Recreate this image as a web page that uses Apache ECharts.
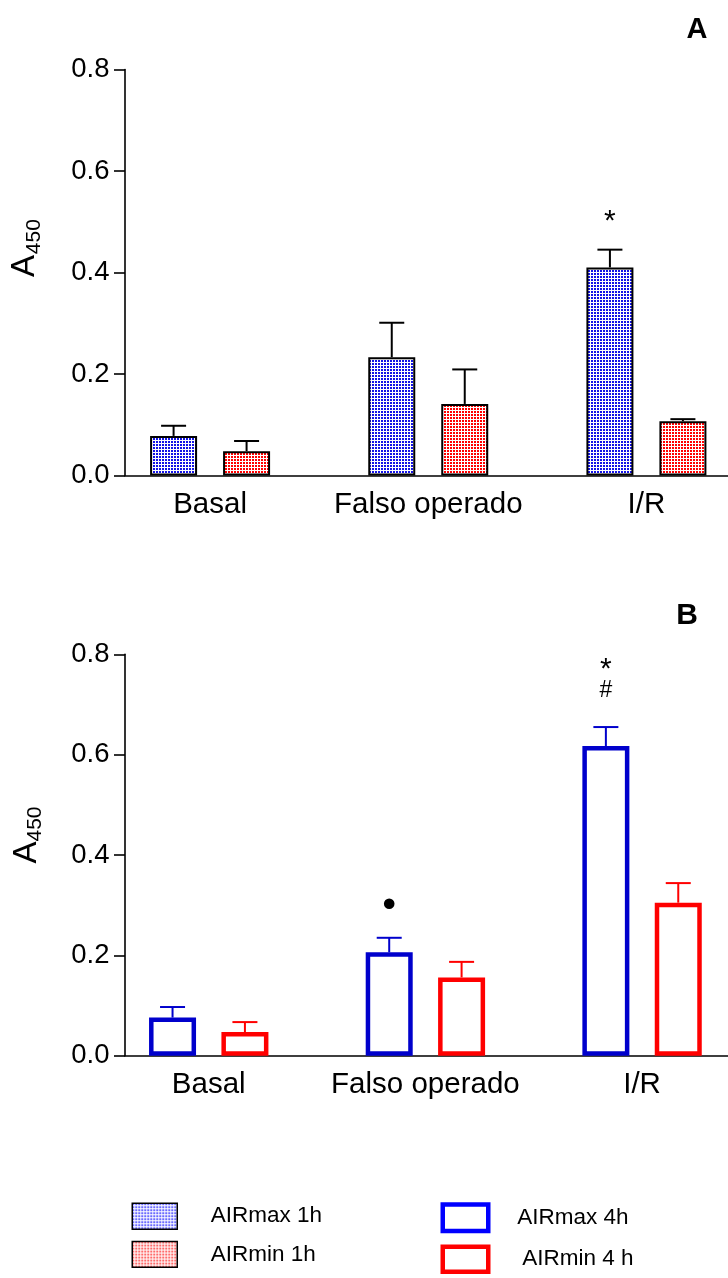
<!DOCTYPE html>
<html>
<head>
<meta charset="utf-8">
<script src="https://cdn.jsdelivr.net/npm/echarts@6/dist/echarts.min.js"></script>
<style>
  html, body { margin: 0; padding: 0; background: #fff; }
  #chart { width: 728px; height: 1278px; }
</style>
</head>
<body>
<div id="chart"></div>
<script>
// Groups on the x axis and the labels on the absorbance axis
const categories = ['Basal', 'Falso operado', 'I/R'];
const yTickLabels = ['0.0', '0.2', '0.4', '0.6', '0.8'];

// Panel A: 1 h of ischemia-reperfusion (mean and SEM of A450)
const airMax1h = [0.078, 0.233, 0.410];
const airMax1hSem = [0.020, 0.068, 0.035];
const airMin1h = [0.048, 0.141, 0.107];
const airMin1hSem = [0.020, 0.068, 0.004];
const airMax1hMarks = [[], [], ['*']];
const airMin1hMarks = [[], [], []];

// Panel B: 4 h of ischemia-reperfusion
const airMax4h = [0.076, 0.206, 0.617];
const airMax4hSem = [0.021, 0.029, 0.038];
const airMin4h = [0.047, 0.156, 0.305];
const airMin4hSem = [0.020, 0.031, 0.039];
const airMax4hMarks = [[], ['•'], ['*', '#']];
const airMin4hMarks = [[], [], []];

// Series names as shown in the legend
const seriesNames = ['AIRmax 1h', 'AIRmin 1h', 'AIRmax 4h', 'AIRmin 4 h'];

const FONT = '"Liberation Sans", Arial, Helvetica, sans-serif';
const BAR_W = 47;
const GAP_A = 0.553;
const GAP_B = 0.54;

// Dotted fill used by the 1 h bars
function dotPattern(color, tile, dot) {
  const c = document.createElement('canvas');
  c.width = c.height = tile;
  const g = c.getContext('2d');
  g.fillStyle = '#ffffff';
  g.fillRect(0, 0, tile, tile);
  g.fillStyle = color;
  g.fillRect(0, 0, dot, dot);
  return { image: c, repeat: 'repeat' };
}
const blueDots = dotPattern('#1414e6', 3, 2);
const redDots = dotPattern('#ff0000', 3, 2);
const blueDotsLight = dotPattern('#6a6aff', 3, 2);
const redDotsLight = dotPattern('#ff6a6a', 3, 2);

// Upper error bar plus significance symbols above it
function errorSeries(name, values, sems, marks, axisIdx, side, gap, color) {
  const offset = BAR_W * (1 + gap) / 2;
  return {
    type: 'custom',
    name: name + ' SEM',
    xAxisIndex: axisIdx,
    yAxisIndex: axisIdx,
    silent: true,
    clip: false,
    z: 1,
    data: values.map((v, i) => [i, v, v + sems[i]]),
    renderItem(params, api) {
      const i = api.value(0);
      const base = api.coord([i, api.value(1)]);
      const top = api.coord([i, api.value(2)]);
      const x = base[0] + side * offset;
      const lw = 2;
      const children = [
        { type: 'line', shape: { x1: x, y1: base[1], x2: x, y2: top[1] }, style: { stroke: color, lineWidth: lw } },
        { type: 'line', shape: { x1: x - 12.5, y1: top[1], x2: x + 12.5, y2: top[1] }, style: { stroke: color, lineWidth: lw } }
      ];
      const list = marks[i] || [];
      for (let k = list.length - 1, level = 0; k >= 0; k--, level++) {
        const yc = top[1] - 36 - level * 29;
        const m = list[k];
        if (m === '•') {
          children.push({ type: 'circle', shape: { cx: x, cy: yc + 2, r: 5.3 }, style: { fill: '#000' } });
        } else {
          const big = m === '*';
          children.push({
            type: 'text',
            style: {
              text: m, x: x, y: big ? yc + 8 : yc,
              fill: '#000', font: (big ? '30px ' : '23px ') + FONT,
              textAlign: 'center', textVerticalAlign: 'middle'
            }
          });
        }
      }
      return { type: 'group', children };
    }
  };
}

const panelA = { top: 69.5, height: 406 };
const panelB = { top: 654.3, height: 401.4 };

const axisGrid = (p) => ({ left: 125, right: 0, top: p.top, height: p.height, outerBoundsMode: 'none', containLabel: false });
const barGrid = (p, left, width) => ({ left, width, top: p.top, height: p.height, outerBoundsMode: 'none', containLabel: false });

const visibleY = (idx) => ({
  type: 'value', gridIndex: idx, min: 0, max: 0.8, interval: 0.2,
  axisLine: { show: true, onZero: false, lineStyle: { color: '#000', width: 1.6 } },
  axisTick: { show: true, inside: false, length: 11, lineStyle: { color: '#000', width: 1.6 } },
  axisLabel: {
    show: true, margin: 15.5, color: '#000', fontSize: 27.5, fontFamily: FONT,
    formatter: (v, i) => yTickLabels[i]
  },
  splitLine: { show: false }
});
const baselineX = (idx) => ({
  type: 'value', gridIndex: idx, min: 0, max: 1,
  axisLine: { show: true, onZero: false, lineStyle: { color: '#000', width: 1.6 } },
  axisTick: { show: false }, axisLabel: { show: false }, splitLine: { show: false }
});
const categoryX = (idx) => ({
  type: 'category', gridIndex: idx, data: categories,
  axisLine: { show: false }, axisTick: { show: false }, splitLine: { show: false },
  axisLabel: { show: true, interval: 0, margin: 14, color: '#000', fontSize: 29.5, fontFamily: FONT, hideOverlap: false }
});
const hiddenY = (idx) => ({ type: 'value', gridIndex: idx, min: 0, max: 0.8, show: false });

const yTitle = (ax, ay, sx, sy) => [
  { type: 'text', x: ax, y: ay, rotation: Math.PI / 2, silent: true,
    style: { text: 'A', font: '33px ' + FONT, fill: '#000', textAlign: 'center', textVerticalAlign: 'middle' } },
  { type: 'text', x: sx, y: sy, rotation: Math.PI / 2, silent: true,
    style: { text: '450', font: '21px ' + FONT, fill: '#000', textAlign: 'center', textVerticalAlign: 'middle' } }
];

const legendBox = (name, left, top, w, h, itemStyle, pad) => ({
  data: [{ name, icon: 'rect', itemStyle }],
  left, top, padding: 0, itemWidth: w, itemHeight: h,
  selectedMode: false,
  textStyle: { color: '#000', fontSize: 22.5, fontFamily: FONT, padding: pad }
});

const option = {
  animation: false,
  backgroundColor: '#fff',
  textStyle: { fontFamily: FONT },
  grid: [
    axisGrid(panelA),
    barGrid(panelA, 101, 654.5),
    axisGrid(panelB),
    barGrid(panelB, 100.4, 650)
  ],
  xAxis: [baselineX(0), categoryX(1), baselineX(2), categoryX(3)],
  yAxis: [visibleY(0), hiddenY(1), visibleY(2), hiddenY(3)],
  legend: [
    legendBox(seriesNames[0], 131.5, 1202.5, 45, 26, { color: blueDotsLight, borderColor: '#000', borderWidth: 1.5 }, [13, 0, 0, 28.5]),
    legendBox(seriesNames[1], 131.5, 1240.8, 45, 25.7, { color: redDotsLight, borderColor: '#000', borderWidth: 1.5 }, [16, 0, 0, 28.5]),
    legendBox(seriesNames[2], 440.5, 1202.3, 45.5, 26.5, { color: '#fff', borderColor: '#0000ff', borderWidth: 4.5 }, [15.6, 0, 0, 24]),
    legendBox(seriesNames[3], 440.5, 1244.5, 45.5, 25, { color: '#fff', borderColor: '#ff0000', borderWidth: 4.5 }, [14, 0, 0, 29])
  ],
  graphic: [
    { type: 'text', x: 697, y: 30, silent: true,
      style: { text: 'A', font: 'bold 29px ' + FONT, fill: '#000', textAlign: 'center', textVerticalAlign: 'middle' } },
    { type: 'text', x: 687, y: 616, silent: true,
      style: { text: 'B', font: 'bold 30px ' + FONT, fill: '#000', textAlign: 'center', textVerticalAlign: 'middle' } },
    ...yTitle(25, 266, 34.2, 236.7),
    ...yTitle(26.7, 852.5, 35.5, 824)
  ],
  series: [
    { type: 'bar', name: seriesNames[0], xAxisIndex: 1, yAxisIndex: 1, data: airMax1h,
      barWidth: BAR_W, barGap: (GAP_A * 100) + '%', z: 2,
      itemStyle: { color: blueDots, borderColor: '#000', borderWidth: 2 } },
    { type: 'bar', name: seriesNames[1], xAxisIndex: 1, yAxisIndex: 1, data: airMin1h,
      barWidth: BAR_W, barGap: (GAP_A * 100) + '%', z: 2,
      itemStyle: { color: redDots, borderColor: '#000', borderWidth: 2 } },
    errorSeries(seriesNames[0], airMax1h, airMax1hSem, airMax1hMarks, 1, -1, GAP_A, '#000'),
    errorSeries(seriesNames[1], airMin1h, airMin1hSem, airMin1hMarks, 1, 1, GAP_A, '#000'),

    { type: 'bar', name: seriesNames[2], xAxisIndex: 3, yAxisIndex: 3, data: airMax4h,
      barWidth: BAR_W, barGap: (GAP_B * 100) + '%', z: 2,
      itemStyle: { color: '#fff', borderColor: '#0000cc', borderWidth: 4.5 } },
    { type: 'bar', name: seriesNames[3], xAxisIndex: 3, yAxisIndex: 3, data: airMin4h,
      barWidth: BAR_W, barGap: (GAP_B * 100) + '%', z: 2,
      itemStyle: { color: '#fff', borderColor: '#ff0000', borderWidth: 4.5 } },
    errorSeries(seriesNames[2], airMax4h, airMax4hSem, airMax4hMarks, 3, -1, GAP_B, '#0000cc'),
    errorSeries(seriesNames[3], airMin4h, airMin4hSem, airMin4hMarks, 3, 1, GAP_B, '#ff0000')
  ]
};

const chart = echarts.init(document.getElementById('chart'), null, { renderer: 'canvas' });
chart.setOption(option);
</script>
</body>
</html>
